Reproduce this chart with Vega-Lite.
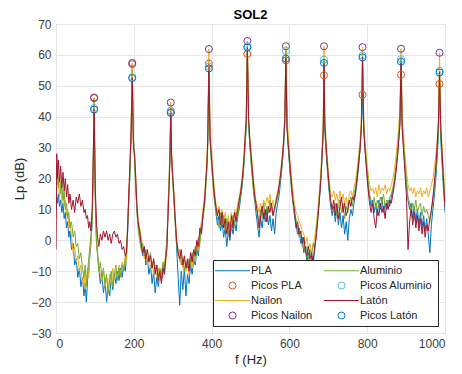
{
"$schema": "https://vega.github.io/schema/vega-lite/v6.json",
"width": 389, "height": 309,
"autosize": {"type": "none"},
"padding": {"left": 56, "top": 24, "right": 17, "bottom": 41},
"title": {"text": "SOL2", "fontSize": 13, "fontWeight": "bold", "font": "Liberation Sans", "color": "#000000", "offset": -4},
"config": {
  "view": {"stroke": "#999999", "strokeWidth": 1},
  "axis": {"labelFont": "Liberation Sans", "titleFont": "Liberation Sans", "labelFontSize": 12, "titleFontSize": 13, "titleFontWeight": "normal", "labelColor": "#404040", "titleColor": "#262626", "gridColor": "#e6e6e6", "gridWidth": 1, "domain": false, "ticks": false},
  "legend": {"labelFont": "Liberation Sans", "labelFontSize": 11, "labelColor": "#262626"}
},
"datasets": {
"spec": [
{"f":0,"PLA":10,"Nailon":16,"Aluminio":19,"Latón":-3},
{"f":2,"PLA":14,"Nailon":22,"Aluminio":25,"Latón":28},
{"f":4,"PLA":12,"Nailon":18,"Aluminio":21,"Latón":20},
{"f":6,"PLA":15,"Nailon":20,"Aluminio":17,"Latón":26},
{"f":9,"PLA":11,"Nailon":14,"Aluminio":21,"Latón":19},
{"f":12,"PLA":13,"Nailon":19,"Aluminio":15,"Latón":24},
{"f":15,"PLA":9,"Nailon":12,"Aluminio":18,"Latón":17},
{"f":18,"PLA":12,"Nailon":16,"Aluminio":13,"Latón":22},
{"f":21,"PLA":7,"Nailon":11,"Aluminio":16,"Latón":16},
{"f":24,"PLA":9,"Nailon":13,"Aluminio":10,"Latón":20},
{"f":27,"PLA":4,"Nailon":8,"Aluminio":12,"Latón":14},
{"f":30,"PLA":6,"Nailon":10,"Aluminio":7,"Latón":18},
{"f":33,"PLA":1,"Nailon":4,"Aluminio":9,"Latón":12},
{"f":36,"PLA":3,"Nailon":6,"Aluminio":4,"Latón":15},
{"f":40,"PLA":-3,"Nailon":1,"Aluminio":6,"Latón":10},
{"f":44,"PLA":-1,"Nailon":-4,"Aluminio":1,"Latón":13},
{"f":48,"PLA":-8,"Nailon":-2,"Aluminio":3,"Latón":9},
{"f":52,"PLA":-6,"Nailon":-7,"Aluminio":-2,"Latón":14},
{"f":56,"PLA":-12,"Nailon":-5,"Aluminio":-1,"Latón":12},
{"f":60,"PLA":-9,"Nailon":-10,"Aluminio":-6,"Latón":15},
{"f":64,"PLA":-15,"Nailon":-8,"Aluminio":-4,"Latón":11},
{"f":68,"PLA":-12,"Nailon":-14,"Aluminio":-9,"Latón":13},
{"f":72,"PLA":-18,"Nailon":-11,"Aluminio":-12,"Latón":9},
{"f":75,"PLA":-14,"Nailon":-16,"Aluminio":-8,"Latón":10},
{"f":78,"PLA":-20,"Nailon":-13,"Aluminio":-15,"Latón":7},
{"f":81,"PLA":-13,"Nailon":-9,"Aluminio":-11,"Latón":8},
{"f":84,"PLA":-10,"Nailon":-12,"Aluminio":-6,"Latón":4},
{"f":87,"PLA":-5,"Nailon":-4,"Aluminio":-2,"Latón":6},
{"f":90,"PLA":-1,"Nailon":0,"Aluminio":2,"Latón":3},
{"f":93,"PLA":6,"Nailon":8,"Aluminio":7,"Latón":10},
{"f":95,"PLA":18,"Nailon":20,"Aluminio":17,"Latón":22},
{"f":98,"PLA":46,"Nailon":46.2,"Aluminio":42.8,"Latón":42.3},
{"f":101,"PLA":14,"Nailon":15,"Aluminio":12,"Latón":17},
{"f":104,"PLA":0,"Nailon":2,"Aluminio":-1,"Latón":6},
{"f":107,"PLA":-5,"Nailon":-6,"Aluminio":-4,"Latón":1},
{"f":110,"PLA":-9,"Nailon":-8,"Aluminio":-10,"Latón":-2},
{"f":114,"PLA":-14,"Nailon":-11,"Aluminio":-7,"Latón":2},
{"f":118,"PLA":-11,"Nailon":-13,"Aluminio":-12,"Latón":0},
{"f":122,"PLA":-17,"Nailon":-10,"Aluminio":-9,"Latón":3},
{"f":126,"PLA":-13,"Nailon":-15,"Aluminio":-14,"Latón":1},
{"f":130,"PLA":-20,"Nailon":-12,"Aluminio":-11,"Latón":3},
{"f":134,"PLA":-15,"Nailon":-16,"Aluminio":-17,"Latón":0},
{"f":138,"PLA":-18,"Nailon":-11,"Aluminio":-13,"Latón":2},
{"f":142,"PLA":-12,"Nailon":-14,"Aluminio":-10,"Latón":-1},
{"f":146,"PLA":-16,"Nailon":-9,"Aluminio":-15,"Latón":2},
{"f":150,"PLA":-11,"Nailon":-13,"Aluminio":-11,"Latón":3},
{"f":154,"PLA":-14,"Nailon":-10,"Aluminio":-8,"Latón":1},
{"f":158,"PLA":-10,"Nailon":-12,"Aluminio":-13,"Latón":2},
{"f":162,"PLA":-13,"Nailon":-8,"Aluminio":-9,"Latón":-1},
{"f":166,"PLA":-9,"Nailon":-11,"Aluminio":-12,"Latón":0},
{"f":170,"PLA":-12,"Nailon":-7,"Aluminio":-8,"Latón":-3},
{"f":174,"PLA":-8,"Nailon":-9,"Aluminio":-10,"Latón":-2},
{"f":178,"PLA":-10,"Nailon":-5,"Aluminio":-6,"Latón":-5},
{"f":181,"PLA":-6,"Nailon":-7,"Aluminio":-3,"Latón":-4},
{"f":184,"PLA":2,"Nailon":4,"Aluminio":5,"Latón":3},
{"f":187,"PLA":12,"Nailon":14,"Aluminio":13,"Latón":15},
{"f":190,"PLA":22,"Nailon":25,"Aluminio":21,"Latón":24},
{"f":193,"PLA":34,"Nailon":36,"Aluminio":32,"Latón":35},
{"f":196,"PLA":57,"Nailon":57.4,"Aluminio":52.8,"Latón":52.5},
{"f":199,"PLA":33,"Nailon":31,"Aluminio":32,"Latón":30},
{"f":202,"PLA":27,"Nailon":29,"Aluminio":25,"Latón":28},
{"f":205,"PLA":18,"Nailon":21,"Aluminio":17,"Latón":20},
{"f":208,"PLA":10,"Nailon":12,"Aluminio":9,"Latón":11},
{"f":211,"PLA":5,"Nailon":7,"Aluminio":4,"Latón":6},
{"f":215,"PLA":2,"Nailon":4,"Aluminio":0,"Latón":3},
{"f":219,"PLA":-2,"Nailon":1,"Aluminio":-3,"Latón":-1},
{"f":223,"PLA":-5,"Nailon":-2,"Aluminio":-1,"Latón":-4},
{"f":227,"PLA":-3,"Nailon":-6,"Aluminio":-5,"Latón":-2},
{"f":231,"PLA":-8,"Nailon":-4,"Aluminio":-3,"Latón":-6},
{"f":235,"PLA":-6,"Nailon":-8,"Aluminio":-7,"Latón":-3},
{"f":239,"PLA":-11,"Nailon":-5,"Aluminio":-6,"Latón":-7},
{"f":243,"PLA":-8,"Nailon":-9,"Aluminio":-4,"Latón":-5},
{"f":247,"PLA":-14,"Nailon":-7,"Aluminio":-9,"Latón":-9},
{"f":251,"PLA":-10,"Nailon":-11,"Aluminio":-6,"Latón":-6},
{"f":255,"PLA":-17,"Nailon":-8,"Aluminio":-10,"Latón":-11},
{"f":259,"PLA":-12,"Nailon":-12,"Aluminio":-8,"Latón":-8},
{"f":263,"PLA":-15,"Nailon":-9,"Aluminio":-12,"Latón":-13},
{"f":267,"PLA":-11,"Nailon":-13,"Aluminio":-9,"Latón":-10},
{"f":271,"PLA":-13,"Nailon":-10,"Aluminio":-11,"Latón":-14},
{"f":275,"PLA":-8,"Nailon":-12,"Aluminio":-7,"Latón":-9},
{"f":279,"PLA":-10,"Nailon":-7,"Aluminio":-9,"Latón":-11},
{"f":282,"PLA":-5,"Nailon":-8,"Aluminio":-4,"Latón":-6},
{"f":285,"PLA":-1,"Nailon":-2,"Aluminio":0,"Latón":-3},
{"f":288,"PLA":10,"Nailon":12,"Aluminio":9,"Latón":8},
{"f":291,"PLA":20,"Nailon":22,"Aluminio":19,"Latón":18},
{"f":293,"PLA":28,"Nailon":30,"Aluminio":27,"Latón":27},
{"f":295,"PLA":41.5,"Nailon":44.6,"Aluminio":42,"Latón":41.2},
{"f":297,"PLA":27,"Nailon":29,"Aluminio":26,"Latón":28},
{"f":300,"PLA":20,"Nailon":22,"Aluminio":19,"Latón":21},
{"f":303,"PLA":14,"Nailon":16,"Aluminio":13,"Latón":15},
{"f":306,"PLA":7,"Nailon":9,"Aluminio":6,"Latón":8},
{"f":310,"PLA":-2,"Nailon":1,"Aluminio":-1,"Latón":0},
{"f":314,"PLA":-12,"Nailon":-3,"Aluminio":-5,"Latón":-4},
{"f":318,"PLA":-21,"Nailon":-7,"Aluminio":-3,"Latón":-6},
{"f":322,"PLA":-10,"Nailon":-4,"Aluminio":-8,"Latón":-3},
{"f":326,"PLA":-16,"Nailon":-9,"Aluminio":-6,"Latón":-8},
{"f":330,"PLA":-9,"Nailon":-6,"Aluminio":-10,"Latón":-5},
{"f":334,"PLA":-18,"Nailon":-10,"Aluminio":-7,"Latón":-9},
{"f":338,"PLA":-11,"Nailon":-7,"Aluminio":-9,"Latón":-6},
{"f":342,"PLA":-14,"Nailon":-11,"Aluminio":-6,"Latón":-10},
{"f":346,"PLA":-8,"Nailon":-6,"Aluminio":-8,"Latón":-4},
{"f":350,"PLA":-11,"Nailon":-9,"Aluminio":-4,"Latón":-7},
{"f":354,"PLA":-6,"Nailon":-4,"Aluminio":-7,"Latón":-3},
{"f":358,"PLA":-8,"Nailon":-7,"Aluminio":-2,"Latón":-5},
{"f":362,"PLA":-3,"Nailon":-1,"Aluminio":-4,"Latón":0},
{"f":366,"PLA":-5,"Nailon":-3,"Aluminio":1,"Latón":-2},
{"f":370,"PLA":1,"Nailon":3,"Aluminio":-1,"Latón":4},
{"f":374,"PLA":3,"Nailon":6,"Aluminio":5,"Latón":2},
{"f":378,"PLA":8,"Nailon":10,"Aluminio":7,"Latón":9},
{"f":382,"PLA":12,"Nailon":15,"Aluminio":11,"Latón":13},
{"f":385,"PLA":18,"Nailon":20,"Aluminio":17,"Latón":19},
{"f":388,"PLA":24,"Nailon":27,"Aluminio":23,"Latón":25},
{"f":390,"PLA":31,"Nailon":34,"Aluminio":30,"Latón":32},
{"f":393,"PLA":57.2,"Nailon":61.9,"Aluminio":56.3,"Latón":55.6},
{"f":396,"PLA":33,"Nailon":37,"Aluminio":32,"Latón":34},
{"f":399,"PLA":27,"Nailon":30,"Aluminio":26,"Latón":28},
{"f":403,"PLA":20,"Nailon":23,"Aluminio":19,"Latón":21},
{"f":407,"PLA":14,"Nailon":17,"Aluminio":13,"Latón":15},
{"f":411,"PLA":9,"Nailon":12,"Aluminio":10,"Latón":11},
{"f":415,"PLA":5,"Nailon":9,"Aluminio":7,"Latón":8},
{"f":419,"PLA":8,"Nailon":11,"Aluminio":4,"Latón":10},
{"f":423,"PLA":3,"Nailon":7,"Aluminio":9,"Latón":5},
{"f":427,"PLA":6,"Nailon":10,"Aluminio":5,"Latón":9},
{"f":431,"PLA":1,"Nailon":6,"Aluminio":8,"Latón":4},
{"f":435,"PLA":4,"Nailon":9,"Aluminio":3,"Latón":7},
{"f":439,"PLA":-2,"Nailon":5,"Aluminio":7,"Latón":2},
{"f":443,"PLA":3,"Nailon":8,"Aluminio":2,"Latón":6},
{"f":447,"PLA":0,"Nailon":4,"Aluminio":6,"Latón":1},
{"f":451,"PLA":5,"Nailon":9,"Aluminio":3,"Latón":8},
{"f":455,"PLA":2,"Nailon":6,"Aluminio":8,"Latón":4},
{"f":459,"PLA":6,"Nailon":10,"Aluminio":5,"Latón":9},
{"f":463,"PLA":3,"Nailon":8,"Aluminio":9,"Latón":6},
{"f":467,"PLA":8,"Nailon":12,"Aluminio":7,"Latón":10},
{"f":471,"PLA":10,"Nailon":14,"Aluminio":12,"Latón":13},
{"f":475,"PLA":14,"Nailon":17,"Aluminio":15,"Latón":16},
{"f":479,"PLA":18,"Nailon":21,"Aluminio":19,"Latón":20},
{"f":483,"PLA":24,"Nailon":27,"Aluminio":25,"Latón":26},
{"f":486,"PLA":30,"Nailon":34,"Aluminio":31,"Latón":33},
{"f":489,"PLA":37,"Nailon":40,"Aluminio":38,"Latón":39},
{"f":492,"PLA":60.3,"Nailon":64.5,"Aluminio":62.8,"Latón":62.4},
{"f":495,"PLA":38,"Nailon":41,"Aluminio":37,"Latón":40},
{"f":498,"PLA":31,"Nailon":34,"Aluminio":32,"Latón":33},
{"f":502,"PLA":25,"Nailon":28,"Aluminio":24,"Latón":27},
{"f":506,"PLA":19,"Nailon":22,"Aluminio":18,"Latón":21},
{"f":510,"PLA":14,"Nailon":17,"Aluminio":13,"Latón":15},
{"f":514,"PLA":9,"Nailon":13,"Aluminio":11,"Latón":12},
{"f":518,"PLA":5,"Nailon":11,"Aluminio":8,"Latón":9},
{"f":522,"PLA":1,"Nailon":9,"Aluminio":6,"Latón":4},
{"f":526,"PLA":7,"Nailon":12,"Aluminio":10,"Latón":8},
{"f":530,"PLA":4,"Nailon":10,"Aluminio":7,"Latón":11},
{"f":534,"PLA":9,"Nailon":13,"Aluminio":12,"Latón":7},
{"f":538,"PLA":6,"Nailon":11,"Aluminio":8,"Latón":10},
{"f":542,"PLA":10,"Nailon":14,"Aluminio":11,"Latón":6},
{"f":546,"PLA":5,"Nailon":12,"Aluminio":9,"Latón":11},
{"f":550,"PLA":8,"Nailon":15,"Aluminio":13,"Latón":9},
{"f":554,"PLA":3,"Nailon":11,"Aluminio":10,"Latón":12},
{"f":558,"PLA":7,"Nailon":13,"Aluminio":8,"Latón":8},
{"f":562,"PLA":2,"Nailon":10,"Aluminio":11,"Latón":10},
{"f":566,"PLA":9,"Nailon":14,"Aluminio":12,"Latón":13},
{"f":570,"PLA":12,"Nailon":16,"Aluminio":14,"Latón":15},
{"f":574,"PLA":15,"Nailon":19,"Aluminio":17,"Latón":18},
{"f":578,"PLA":20,"Nailon":23,"Aluminio":21,"Latón":22},
{"f":582,"PLA":25,"Nailon":28,"Aluminio":26,"Latón":27},
{"f":585,"PLA":30,"Nailon":33,"Aluminio":31,"Latón":32},
{"f":588,"PLA":37,"Nailon":40,"Aluminio":39,"Latón":38},
{"f":591,"PLA":58.2,"Nailon":62.8,"Aluminio":61.3,"Latón":58.8},
{"f":594,"PLA":37,"Nailon":41,"Aluminio":38,"Latón":36},
{"f":597,"PLA":30,"Nailon":34,"Aluminio":31,"Latón":31},
{"f":601,"PLA":23,"Nailon":27,"Aluminio":24,"Latón":25},
{"f":605,"PLA":17,"Nailon":21,"Aluminio":18,"Latón":19},
{"f":609,"PLA":12,"Nailon":16,"Aluminio":13,"Latón":13},
{"f":613,"PLA":8,"Nailon":12,"Aluminio":9,"Latón":10},
{"f":617,"PLA":5,"Nailon":9,"Aluminio":7,"Latón":4},
{"f":621,"PLA":2,"Nailon":8,"Aluminio":4,"Latón":6},
{"f":625,"PLA":4,"Nailon":6,"Aluminio":1,"Latón":2},
{"f":629,"PLA":-1,"Nailon":5,"Aluminio":3,"Latón":3},
{"f":633,"PLA":1,"Nailon":3,"Aluminio":-2,"Latón":-1},
{"f":637,"PLA":-4,"Nailon":2,"Aluminio":0,"Latón":1},
{"f":641,"PLA":-2,"Nailon":-1,"Aluminio":-4,"Latón":-3},
{"f":645,"PLA":-7,"Nailon":1,"Aluminio":-2,"Latón":-5},
{"f":649,"PLA":-4,"Nailon":-3,"Aluminio":-6,"Latón":-2},
{"f":653,"PLA":-9,"Nailon":-1,"Aluminio":-3,"Latón":-6},
{"f":657,"PLA":-5,"Nailon":-4,"Aluminio":-5,"Latón":-4},
{"f":661,"PLA":-8,"Nailon":-2,"Aluminio":-1,"Latón":-7},
{"f":665,"PLA":-3,"Nailon":1,"Aluminio":-3,"Latón":-2},
{"f":669,"PLA":2,"Nailon":5,"Aluminio":3,"Latón":1},
{"f":673,"PLA":7,"Nailon":10,"Aluminio":8,"Latón":7},
{"f":677,"PLA":13,"Nailon":16,"Aluminio":14,"Latón":13},
{"f":681,"PLA":20,"Nailon":23,"Aluminio":21,"Latón":20},
{"f":684,"PLA":27,"Nailon":30,"Aluminio":28,"Latón":27},
{"f":687,"PLA":35,"Nailon":38,"Aluminio":36,"Latón":36},
{"f":689,"PLA":53.4,"Nailon":62.8,"Aluminio":58.5,"Latón":57.4},
{"f":691,"PLA":36,"Nailon":40,"Aluminio":37,"Latón":38},
{"f":694,"PLA":29,"Nailon":33,"Aluminio":30,"Latón":31},
{"f":698,"PLA":22,"Nailon":26,"Aluminio":23,"Latón":24},
{"f":702,"PLA":16,"Nailon":20,"Aluminio":17,"Latón":18},
{"f":706,"PLA":11,"Nailon":15,"Aluminio":12,"Latón":13},
{"f":710,"PLA":8,"Nailon":14,"Aluminio":11,"Latón":10},
{"f":714,"PLA":11,"Nailon":16,"Aluminio":9,"Latón":13},
{"f":718,"PLA":6,"Nailon":13,"Aluminio":12,"Latón":8},
{"f":722,"PLA":10,"Nailon":15,"Aluminio":8,"Latón":12},
{"f":726,"PLA":5,"Nailon":12,"Aluminio":11,"Latón":7},
{"f":730,"PLA":9,"Nailon":16,"Aluminio":13,"Latón":11},
{"f":734,"PLA":4,"Nailon":13,"Aluminio":9,"Latón":14},
{"f":738,"PLA":8,"Nailon":15,"Aluminio":12,"Latón":9},
{"f":742,"PLA":2,"Nailon":12,"Aluminio":7,"Latón":12},
{"f":746,"PLA":6,"Nailon":14,"Aluminio":11,"Latón":8},
{"f":750,"PLA":0,"Nailon":11,"Aluminio":9,"Latón":10},
{"f":754,"PLA":7,"Nailon":15,"Aluminio":12,"Latón":13},
{"f":758,"PLA":10,"Nailon":16,"Aluminio":14,"Latón":11},
{"f":762,"PLA":8,"Nailon":14,"Aluminio":11,"Latón":14},
{"f":766,"PLA":12,"Nailon":17,"Aluminio":15,"Latón":13},
{"f":770,"PLA":15,"Nailon":19,"Aluminio":17,"Latón":16},
{"f":774,"PLA":19,"Nailon":23,"Aluminio":21,"Latón":20},
{"f":778,"PLA":24,"Nailon":28,"Aluminio":26,"Latón":25},
{"f":782,"PLA":30,"Nailon":33,"Aluminio":31,"Latón":30},
{"f":785,"PLA":36,"Nailon":40,"Aluminio":37,"Latón":37},
{"f":788,"PLA":47.1,"Nailon":62.5,"Aluminio":59.8,"Latón":59.2},
{"f":791,"PLA":36,"Nailon":40,"Aluminio":38,"Latón":37},
{"f":794,"PLA":30,"Nailon":33,"Aluminio":31,"Latón":30},
{"f":798,"PLA":24,"Nailon":27,"Aluminio":25,"Latón":23},
{"f":802,"PLA":18,"Nailon":22,"Aluminio":20,"Latón":17},
{"f":806,"PLA":14,"Nailon":18,"Aluminio":15,"Latón":12},
{"f":810,"PLA":11,"Nailon":16,"Aluminio":13,"Latón":9},
{"f":814,"PLA":13,"Nailon":17,"Aluminio":11,"Latón":12},
{"f":818,"PLA":9,"Nailon":15,"Aluminio":14,"Latón":7},
{"f":822,"PLA":12,"Nailon":17,"Aluminio":10,"Latón":4},
{"f":826,"PLA":8,"Nailon":14,"Aluminio":13,"Latón":10},
{"f":830,"PLA":13,"Nailon":18,"Aluminio":11,"Latón":8},
{"f":834,"PLA":10,"Nailon":15,"Aluminio":14,"Latón":12},
{"f":838,"PLA":14,"Nailon":17,"Aluminio":12,"Latón":9},
{"f":842,"PLA":9,"Nailon":16,"Aluminio":15,"Latón":11},
{"f":846,"PLA":12,"Nailon":18,"Aluminio":11,"Latón":7},
{"f":850,"PLA":10,"Nailon":15,"Aluminio":13,"Latón":12},
{"f":854,"PLA":13,"Nailon":17,"Aluminio":12,"Latón":10},
{"f":858,"PLA":11,"Nailon":16,"Aluminio":14,"Latón":13},
{"f":862,"PLA":14,"Nailon":18,"Aluminio":15,"Latón":12},
{"f":866,"PLA":16,"Nailon":20,"Aluminio":17,"Latón":15},
{"f":870,"PLA":19,"Nailon":23,"Aluminio":20,"Latón":18},
{"f":874,"PLA":23,"Nailon":27,"Aluminio":24,"Latón":22},
{"f":878,"PLA":28,"Nailon":32,"Aluminio":29,"Latón":27},
{"f":881,"PLA":33,"Nailon":37,"Aluminio":34,"Latón":32},
{"f":884,"PLA":38,"Nailon":42,"Aluminio":39,"Latón":37},
{"f":887,"PLA":53.6,"Nailon":62,"Aluminio":58.6,"Latón":57.8},
{"f":890,"PLA":37,"Nailon":41,"Aluminio":38,"Latón":36},
{"f":893,"PLA":31,"Nailon":35,"Aluminio":32,"Latón":30},
{"f":897,"PLA":24,"Nailon":28,"Aluminio":25,"Latón":22},
{"f":901,"PLA":18,"Nailon":22,"Aluminio":19,"Latón":14},
{"f":905,"PLA":13,"Nailon":18,"Aluminio":14,"Latón":-3},
{"f":909,"PLA":10,"Nailon":16,"Aluminio":12,"Latón":6},
{"f":913,"PLA":12,"Nailon":17,"Aluminio":9,"Latón":10},
{"f":917,"PLA":7,"Nailon":15,"Aluminio":12,"Latón":5},
{"f":921,"PLA":11,"Nailon":17,"Aluminio":10,"Latón":9},
{"f":925,"PLA":6,"Nailon":14,"Aluminio":13,"Latón":4},
{"f":929,"PLA":10,"Nailon":16,"Aluminio":9,"Latón":8},
{"f":933,"PLA":5,"Nailon":15,"Aluminio":11,"Latón":3},
{"f":937,"PLA":9,"Nailon":17,"Aluminio":12,"Latón":7},
{"f":941,"PLA":4,"Nailon":14,"Aluminio":8,"Latón":2},
{"f":945,"PLA":8,"Nailon":16,"Aluminio":11,"Latón":6},
{"f":949,"PLA":3,"Nailon":15,"Aluminio":9,"Latón":1},
{"f":953,"PLA":7,"Nailon":17,"Aluminio":10,"Latón":5},
{"f":957,"PLA":2,"Nailon":14,"Aluminio":8,"Latón":3},
{"f":961,"PLA":-4,"Nailon":16,"Aluminio":6,"Latón":7},
{"f":965,"PLA":5,"Nailon":18,"Aluminio":9,"Latón":10},
{"f":969,"PLA":10,"Nailon":20,"Aluminio":13,"Latón":14},
{"f":973,"PLA":15,"Nailon":24,"Aluminio":18,"Latón":19},
{"f":977,"PLA":21,"Nailon":28,"Aluminio":23,"Latón":25},
{"f":980,"PLA":27,"Nailon":33,"Aluminio":29,"Latón":31},
{"f":983,"PLA":34,"Nailon":39,"Aluminio":36,"Latón":38},
{"f":986,"PLA":50.6,"Nailon":60.7,"Aluminio":54.8,"Latón":54.3},
{"f":989,"PLA":33,"Nailon":39,"Aluminio":35,"Latón":37},
{"f":992,"PLA":26,"Nailon":32,"Aluminio":28,"Latón":29},
{"f":995,"PLA":19,"Nailon":25,"Aluminio":21,"Latón":22},
{"f":998,"PLA":13,"Nailon":19,"Aluminio":16,"Latón":15},
{"f":1000,"PLA":9,"Nailon":15,"Aluminio":12,"Latón":11}
],
"picos": [
{"f":98,"lab":"Picos PLA","v":46},{"f":98,"lab":"Picos Nailon","v":46.2},{"f":98,"lab":"Picos Aluminio","v":42.8},{"f":98,"lab":"Picos Latón","v":42.3},
{"f":196,"lab":"Picos PLA","v":57},{"f":196,"lab":"Picos Nailon","v":57.4},{"f":196,"lab":"Picos Aluminio","v":52.8},{"f":196,"lab":"Picos Latón","v":52.5},
{"f":295,"lab":"Picos PLA","v":41.5},{"f":295,"lab":"Picos Nailon","v":44.6},{"f":295,"lab":"Picos Aluminio","v":42},{"f":295,"lab":"Picos Latón","v":41.2},
{"f":393,"lab":"Picos PLA","v":57.2},{"f":393,"lab":"Picos Nailon","v":61.9},{"f":393,"lab":"Picos Aluminio","v":56.3},{"f":393,"lab":"Picos Latón","v":55.6},
{"f":492,"lab":"Picos PLA","v":60.3},{"f":492,"lab":"Picos Nailon","v":64.5},{"f":492,"lab":"Picos Aluminio","v":62.8},{"f":492,"lab":"Picos Latón","v":62.4},
{"f":591,"lab":"Picos PLA","v":58.2},{"f":591,"lab":"Picos Nailon","v":62.8},{"f":591,"lab":"Picos Aluminio","v":61.3},{"f":591,"lab":"Picos Latón","v":58.8},
{"f":689,"lab":"Picos PLA","v":53.4},{"f":689,"lab":"Picos Nailon","v":62.8},{"f":689,"lab":"Picos Aluminio","v":58.5},{"f":689,"lab":"Picos Latón","v":57.4},
{"f":788,"lab":"Picos PLA","v":47.1},{"f":788,"lab":"Picos Nailon","v":62.5},{"f":788,"lab":"Picos Aluminio","v":59.8},{"f":788,"lab":"Picos Latón","v":59.2},
{"f":887,"lab":"Picos PLA","v":53.6},{"f":887,"lab":"Picos Nailon","v":62},{"f":887,"lab":"Picos Aluminio","v":58.6},{"f":887,"lab":"Picos Latón","v":57.8},
{"f":986,"lab":"Picos PLA","v":50.6},{"f":986,"lab":"Picos Nailon","v":60.7},{"f":986,"lab":"Picos Aluminio","v":54.8},{"f":986,"lab":"Picos Latón","v":54.3}
]
},
"encoding": {
  "x": {"field": "f", "type": "quantitative", "title": "f (Hz)", "scale": {"domain": [0, 1000], "nice": false},
        "axis": {"values": [0,200,400,600,800,1000], "format": "d", "labelPadding": 5, "titlePadding": 4}},
  "y": {"field": "v", "type": "quantitative", "title": "Lp (dB)", "scale": {"domain": [-30, 70], "nice": false},
        "axis": {"values": [-30,-20,-10,0,10,20,30,40,50,60,70], "labelPadding": 5, "titlePadding": 4}},
  "color": {"field": "lab", "type": "nominal",
    "scale": {"domain": ["PLA","Picos PLA","Nailon","Picos Nailon","Aluminio","Picos Aluminio","Latón","Picos Latón"],
              "range": ["#0072BD","#D95319","#EDB120","#7E2F8E","#77AC30","#4DBEEE","#A2142F","#0072BD"]},
    "legend": {"title": null, "orient": "none", "legendX": 157, "legendY": 236, "columns": 2,
               "fillColor": "#ffffff", "strokeColor": "#262626", "padding": 5, "rowPadding": 3, "columnPadding": 9,
               "symbolSize": 49, "symbolStrokeWidth": 1, "symbolOffset": 9, "labelOffset": 13,
               "encoding": {"symbols": {
                  "shape": {"value": {"expr": "indexof(datum.value, 'Picos') === 0 ? 'circle' : 'M-5,0H5'"}},
                  "fill": {"value": "transparent"},
                  "strokeWidth": {"value": 1},
                  "opacity": {"value": 1}}}}}
},
"layer": [
  {"data": {"name": "spec"},
   "transform": [{"fold": ["PLA","Nailon","Aluminio","Latón"], "as": ["lab","v"]}],
   "mark": {"type": "line", "strokeWidth": 1, "clip": true}},
  {"data": {"name": "picos"},
   "mark": {"type": "point", "filled": false, "size": 50, "strokeWidth": 1, "opacity": 1}}
]
}
